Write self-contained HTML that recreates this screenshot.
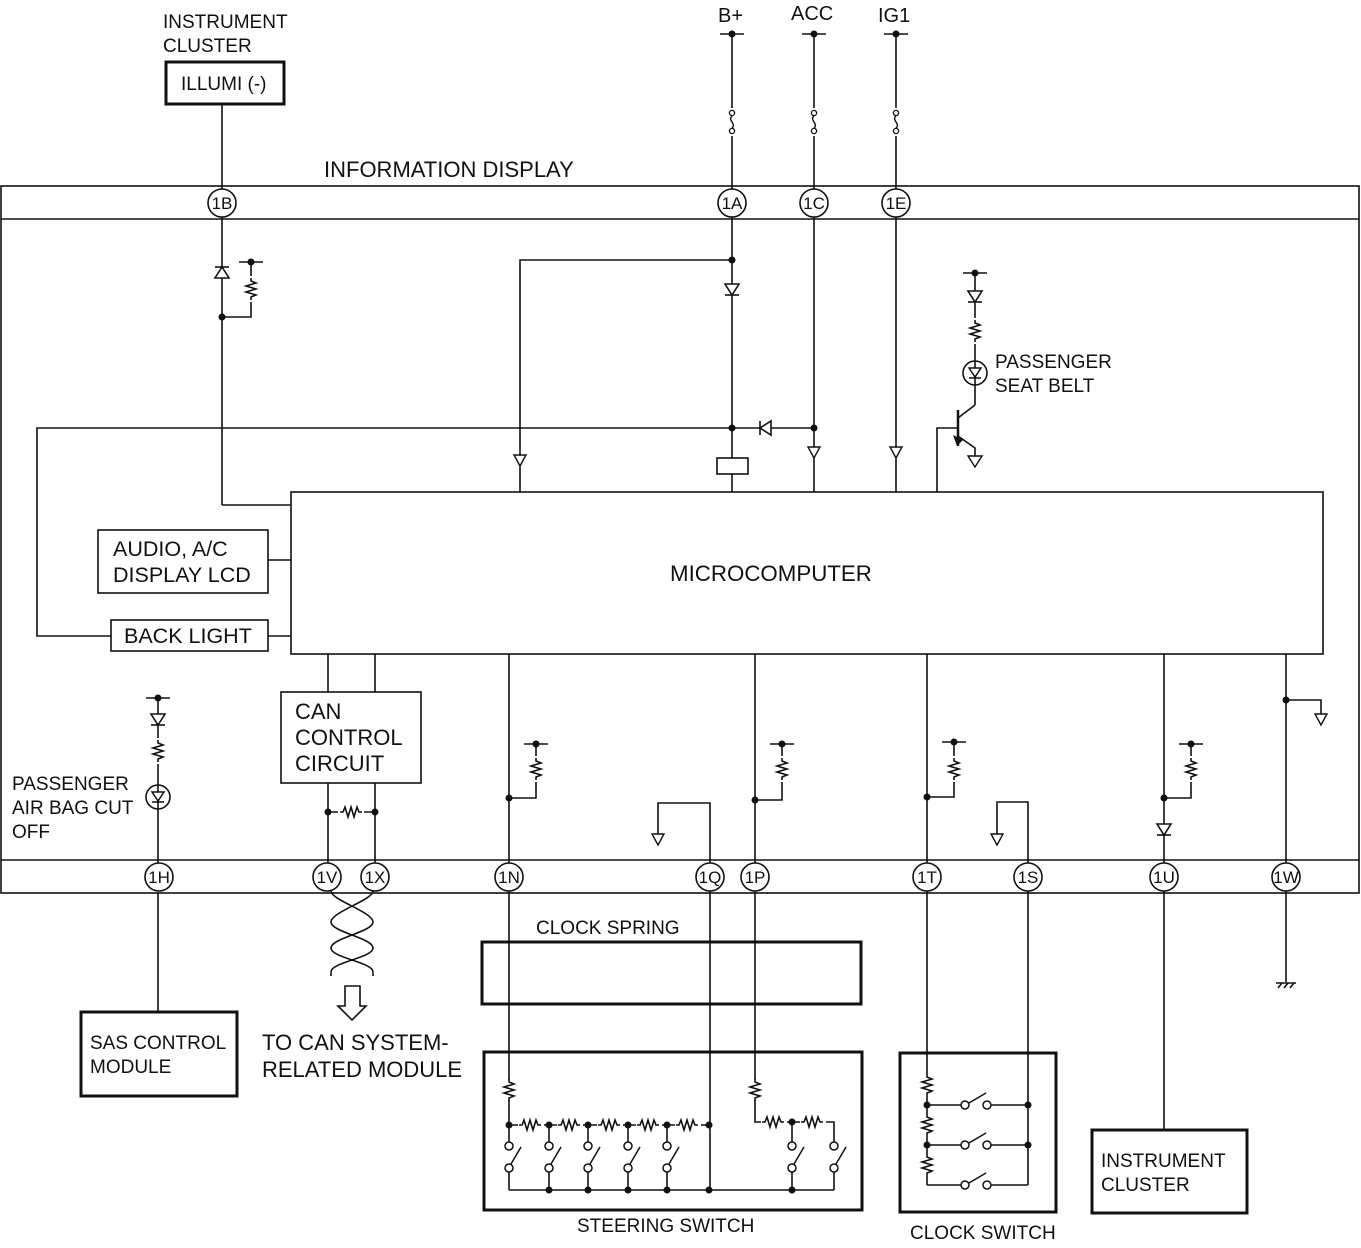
<!DOCTYPE html>
<html><head><meta charset="utf-8"><style>
html,body{margin:0;padding:0;background:#fff;}
svg{display:block;}
text{font-family:"Liberation Sans",Arial,sans-serif;fill:#111;}
</style></head><body>
<svg width="1361" height="1248" viewBox="0 0 1361 1248" xmlns="http://www.w3.org/2000/svg">
<defs>
<g id="rv"><polyline points="0,-11 0,-8 5,-6 -5,-3 5,0 -5,3 5,6 0,8 0,11" fill="none" stroke="#111" stroke-width="1.6"/></g>
<g id="rh"><polyline points="-11,0 -8,0 -6,-5 -3,5 0,-5 3,5 6,-5 8,0 11,0" fill="none" stroke="#111" stroke-width="1.6"/></g>
<g id="dd"><polygon points="-7,-6 7,-6 0,5" fill="#fff" stroke="#111" stroke-width="1.6"/><line x1="-7" y1="5" x2="7" y2="5" stroke="#111" stroke-width="1.6"/></g>
<g id="ar"><polygon points="-6,-5 6,-5 0,6" fill="#fff" stroke="#111" stroke-width="1.4"/></g>
<g id="sup"><line x1="-12" y1="0" x2="12" y2="0" stroke="#111" stroke-width="1.6"/><circle r="3.5" fill="#111"/></g>
<g id="led"><circle r="12" fill="#fff" stroke="#111" stroke-width="1.6"/><line x1="0" y1="-12" x2="0" y2="12" stroke="#111" stroke-width="1.6"/><polygon points="-6,-5 6,-5 0,4" fill="#fff" stroke="#111" stroke-width="1.5"/><line x1="-6" y1="5" x2="6" y2="5" stroke="#111" stroke-width="1.5"/></g>
<g id="fuse"><circle cx="0" cy="-9" r="2.6" fill="#fff" stroke="#111" stroke-width="1.3"/><circle cx="0" cy="9" r="2.6" fill="#fff" stroke="#111" stroke-width="1.3"/><path d="M0,-6 C-5,-2 5,2 0,6" fill="none" stroke="#111" stroke-width="1.4"/></g>
<g id="swv"><circle cx="0" cy="-11" r="4" fill="#fff" stroke="#111" stroke-width="1.5"/><circle cx="0" cy="11" r="4" fill="#fff" stroke="#111" stroke-width="1.5"/><line x1="2" y1="7" x2="12" y2="-10" stroke="#111" stroke-width="1.5"/></g>
<g id="swh"><circle cx="-11" cy="0" r="4" fill="#fff" stroke="#111" stroke-width="1.5"/><circle cx="11" cy="0" r="4" fill="#fff" stroke="#111" stroke-width="1.5"/><line x1="-7" y1="-2" x2="10" y2="-12" stroke="#111" stroke-width="1.5"/></g>
<g id="cn"><circle r="14" fill="#fff" stroke="#111" stroke-width="1.6"/></g>
</defs>

<g stroke="#111" stroke-width="1.6" fill="none">
<rect x="1" y="186" width="1358" height="707"/>
<line x1="1" y1="219" x2="1359" y2="219"/>
<line x1="1" y1="860" x2="1359" y2="860"/>
<rect x="291" y="492" width="1032" height="162"/>
<rect x="166" y="62" width="118" height="42" stroke-width="3"/>
<rect x="98" y="530" width="170" height="63"/>
<rect x="111" y="620" width="157" height="31"/>
<rect x="281" y="692" width="140" height="91"/>
<rect x="482" y="942" width="379" height="62" stroke-width="3"/>
<rect x="484" y="1052" width="378" height="158" stroke-width="3"/>
<rect x="900" y="1053" width="156" height="159" stroke-width="3"/>
<rect x="81" y="1012" width="156" height="84" stroke-width="3"/>
<rect x="1092" y="1130" width="155" height="83" stroke-width="3"/>

<line x1="732" y1="34" x2="732" y2="492"/>
<line x1="814" y1="34" x2="814" y2="492"/>
<line x1="896" y1="34" x2="896" y2="492"/>
<line x1="222" y1="104" x2="222" y2="505"/>
<line x1="222" y1="505" x2="291" y2="505"/>
<polyline points="222,317 251,317 251,262"/>
<polyline points="732,260 520,260 520,492"/>
<polyline points="814,428 37,428 37,636 111,636"/>
<line x1="268" y1="636" x2="291" y2="636"/>
<line x1="268" y1="560" x2="291" y2="560"/>
<line x1="975" y1="273" x2="975" y2="405"/>
<polyline points="937,492 937,428 958,428"/>
<line x1="958" y1="410" x2="958" y2="446" stroke-width="2.5"/>
<line x1="958" y1="418" x2="975" y2="405"/>
<polyline points="958,436 975,448 975,462"/>
<line x1="328" y1="654" x2="328" y2="692"/>
<line x1="375" y1="654" x2="375" y2="692"/>
<line x1="328" y1="783" x2="328" y2="863"/>
<line x1="375" y1="783" x2="375" y2="863"/>
<line x1="328" y1="812" x2="375" y2="812"/>
<line x1="158" y1="698" x2="158" y2="863"/>
<!-- 1N -->
<line x1="509" y1="654" x2="509" y2="1080"/>
<line x1="509" y1="1100" x2="509" y2="1146"/>
<line x1="509" y1="1168" x2="509" y2="1190"/>
<polyline points="509,798 536,798 536,744"/>
<!-- 1P -->
<line x1="755" y1="654" x2="755" y2="1080"/>
<polyline points="755,800 782,800 782,744"/>
<!-- 1T -->
<line x1="927" y1="654" x2="927" y2="1074"/>
<polyline points="927,797 954,797 954,742"/>
<line x1="927" y1="1096" x2="927" y2="1114"/>
<line x1="927" y1="1136" x2="927" y2="1154"/>
<line x1="927" y1="1176" x2="927" y2="1185"/>
<!-- 1U -->
<line x1="1164" y1="654" x2="1164" y2="1130"/>
<polyline points="1164,798 1191,798 1191,744"/>
<!-- 1W -->
<line x1="1286" y1="654" x2="1286" y2="982"/>
<polyline points="1286,700 1321,700 1321,714"/>
<polyline points="710,1190 710,803 658,803 658,834"/>
<polyline points="1028,1185 1028,802 997,802 997,834"/>
<line x1="158" y1="893" x2="158" y2="1012"/>
<path d="M331,891 C331,900 373,912 373,922 C373,932 331,938 331,948 C331,958 373,962 373,972 L373,976" />
<path d="M373,891 C373,900 331,912 331,922 C331,932 373,938 373,948 C373,958 331,962 331,972 L331,976" />
<polygon points="345,986 360,986 360,1006 366,1006 352,1020 338,1006 345,1006" fill="#fff"/>
<line x1="1276" y1="983" x2="1296" y2="983"/>
<line x1="1278" y1="988" x2="1282" y2="983"/><line x1="1284" y1="988" x2="1288" y2="983"/><line x1="1290" y1="988" x2="1294" y2="983"/>

<!-- steering switch internals -->
<line x1="509" y1="1125" x2="709" y2="1125"/>
<line x1="509" y1="1190" x2="834" y2="1190"/>
<polyline points="755,1100 755,1122 834,1122 834,1146"/>
<line x1="549" y1="1125" x2="549" y2="1146"/><line x1="549" y1="1168" x2="549" y2="1190"/>
<line x1="588" y1="1125" x2="588" y2="1146"/><line x1="588" y1="1168" x2="588" y2="1190"/>
<line x1="628" y1="1125" x2="628" y2="1146"/><line x1="628" y1="1168" x2="628" y2="1190"/>
<line x1="667" y1="1125" x2="667" y2="1146"/><line x1="667" y1="1168" x2="667" y2="1190"/>
<line x1="792" y1="1122" x2="792" y2="1146"/><line x1="792" y1="1168" x2="792" y2="1190"/>
<line x1="834" y1="1168" x2="834" y2="1190"/>
<!-- clock switch internals -->
<line x1="927" y1="1105" x2="965" y2="1105"/><line x1="987" y1="1105" x2="1028" y2="1105"/>
<line x1="927" y1="1145" x2="965" y2="1145"/><line x1="987" y1="1145" x2="1028" y2="1145"/>
<line x1="927" y1="1185" x2="965" y2="1185"/><line x1="987" y1="1185" x2="1028" y2="1185"/>
</g>

<g fill="#fff">
<rect x="244" y="276" width="14" height="26"/><rect x="968" y="318" width="14" height="26"/>
<rect x="151" y="738" width="14" height="26"/><rect x="338" y="805" width="26" height="14"/>
<rect x="529" y="756" width="14" height="26"/><rect x="775" y="756" width="14" height="26"/>
<rect x="947" y="756" width="14" height="26"/><rect x="1184" y="756" width="14" height="26"/>
<rect x="518" y="1118" width="26" height="14"/><rect x="557" y="1118" width="26" height="14"/><rect x="597" y="1118" width="26" height="14"/><rect x="636" y="1118" width="26" height="14"/><rect x="675" y="1118" width="26" height="14"/>
<rect x="761" y="1115" width="26" height="14"/><rect x="800" y="1115" width="26" height="14"/>
</g>
<use href="#rv" x="251" y="289"/><use href="#rv" x="975" y="331"/><use href="#rv" x="158" y="751"/>
<use href="#rh" x="351" y="812"/>
<use href="#rv" x="536" y="769"/><use href="#rv" x="782" y="769"/><use href="#rv" x="954" y="769"/><use href="#rv" x="1191" y="769"/>
<use href="#rv" x="509" y="1090"/><use href="#rv" x="755" y="1090"/>
<use href="#rv" x="927" y="1085"/><use href="#rv" x="927" y="1125"/><use href="#rv" x="927" y="1165"/>
<use href="#rh" x="530" y="1125"/><use href="#rh" x="569" y="1125"/><use href="#rh" x="609" y="1125"/><use href="#rh" x="648" y="1125"/><use href="#rh" x="687" y="1125"/>
<use href="#rh" x="773" y="1122"/><use href="#rh" x="812" y="1122"/>
<use href="#swv" x="509" y="1157"/><use href="#swv" x="549" y="1157"/><use href="#swv" x="588" y="1157"/><use href="#swv" x="628" y="1157"/><use href="#swv" x="667" y="1157"/><use href="#swv" x="792" y="1157"/><use href="#swv" x="834" y="1157"/>
<use href="#swh" x="976" y="1105"/><use href="#swh" x="976" y="1145"/><use href="#swh" x="976" y="1185"/>

<use href="#dd" transform="translate(222,272) rotate(180)"/>
<use href="#dd" x="732" y="290"/>
<use href="#dd" transform="translate(765,428) rotate(90)"/>
<use href="#dd" x="975" y="297"/>
<use href="#dd" x="158" y="720"/>
<use href="#dd" x="1164" y="830"/>
<use href="#led" x="975" y="373"/><use href="#led" x="158" y="797"/>
<use href="#ar" x="520" y="460"/><use href="#ar" x="814" y="452"/><use href="#ar" x="896" y="452"/>
<polygon points="968,456 982,456 975,467" fill="#fff" stroke="#111" stroke-width="1.4"/>
<polygon points="953,435 963,440 957,446" fill="#111"/>
<use href="#ar" x="1321" y="719"/><use href="#ar" x="658" y="839"/><use href="#ar" x="997" y="839"/>
<rect x="717" y="458" width="31" height="16" fill="#fff" stroke="#111" stroke-width="1.6"/>
<rect x="726" y="108" width="12" height="28" fill="#fff"/><rect x="808" y="108" width="12" height="28" fill="#fff"/><rect x="890" y="108" width="12" height="28" fill="#fff"/>
<use href="#fuse" x="732" y="122"/><use href="#fuse" x="814" y="122"/><use href="#fuse" x="896" y="122"/>
<use href="#sup" x="732" y="34"/><use href="#sup" x="814" y="34"/><use href="#sup" x="896" y="34"/>
<use href="#sup" x="251" y="262"/><use href="#sup" x="975" y="273"/><use href="#sup" x="158" y="698"/>
<use href="#sup" x="536" y="744"/><use href="#sup" x="782" y="744"/><use href="#sup" x="954" y="742"/><use href="#sup" x="1191" y="744"/>
<g fill="#111">
<circle cx="222" cy="317" r="3.5"/><circle cx="732" cy="260" r="3.5"/><circle cx="732" cy="428" r="3.5"/><circle cx="814" cy="428" r="3.5"/>
<circle cx="328" cy="812" r="3.5"/><circle cx="375" cy="812" r="3.5"/>
<circle cx="509" cy="798" r="3.5"/><circle cx="755" cy="800" r="3.5"/><circle cx="927" cy="797" r="3.5"/><circle cx="1164" cy="798" r="3.5"/><circle cx="1286" cy="700" r="3.5"/>
<circle cx="509" cy="1125" r="3.5"/><circle cx="549" cy="1125" r="3.5"/><circle cx="588" cy="1125" r="3.5"/><circle cx="628" cy="1125" r="3.5"/><circle cx="667" cy="1125" r="3.5"/><circle cx="709" cy="1125" r="3.5"/>
<circle cx="549" cy="1190" r="3.5"/><circle cx="588" cy="1190" r="3.5"/><circle cx="628" cy="1190" r="3.5"/><circle cx="667" cy="1190" r="3.5"/><circle cx="709" cy="1190" r="3.5"/><circle cx="792" cy="1190" r="3.5"/><circle cx="792" cy="1122" r="3.5"/>
<circle cx="927" cy="1105" r="3.5"/><circle cx="927" cy="1145" r="3.5"/><circle cx="1028" cy="1105" r="3.5"/><circle cx="1028" cy="1145" r="3.5"/>
</g>

<g font-size="17" text-anchor="middle">
<use href="#cn" x="222" y="203"/><text x="222" y="209">1B</text>
<use href="#cn" x="732" y="203"/><text x="732" y="209">1A</text>
<use href="#cn" x="814" y="203"/><text x="814" y="209">1C</text>
<use href="#cn" x="896" y="203"/><text x="896" y="209">1E</text>
<use href="#cn" x="159" y="877"/><text x="159" y="883">1H</text>
<use href="#cn" x="327" y="877"/><text x="327" y="883">1V</text>
<use href="#cn" x="375" y="877"/><text x="375" y="883">1X</text>
<use href="#cn" x="509" y="877"/><text x="509" y="883">1N</text>
<use href="#cn" x="710" y="877"/><text x="710" y="883">1Q</text>
<use href="#cn" x="755" y="877"/><text x="755" y="883">1P</text>
<use href="#cn" x="927" y="877"/><text x="927" y="883">1T</text>
<use href="#cn" x="1028" y="877"/><text x="1028" y="883">1S</text>
<use href="#cn" x="1164" y="877"/><text x="1164" y="883">1U</text>
<use href="#cn" x="1286" y="877"/><text x="1286" y="883">1W</text>
</g>

<g font-size="19">
<text x="163" y="28">INSTRUMENT</text><text x="163" y="52">CLUSTER</text>
<text x="181" y="90">ILLUMI (-)</text>
<text x="718" y="22" font-size="20">B+</text><text x="791" y="20" font-size="20">ACC</text><text x="878" y="22" font-size="20">IG1</text>
<text x="324" y="177" font-size="22">INFORMATION DISPLAY</text>
<text x="995" y="368">PASSENGER</text><text x="995" y="392">SEAT BELT</text>
<text x="113" y="556" font-size="21.5">AUDIO, A/C</text><text x="113" y="582" font-size="21.5">DISPLAY LCD</text>
<text x="124" y="643" font-size="21.5">BACK LIGHT</text>
<text x="670" y="581" font-size="22.3">MICROCOMPUTER</text>
<text x="295" y="719" font-size="22">CAN</text><text x="295" y="745" font-size="22">CONTROL</text><text x="295" y="771" font-size="22">CIRCUIT</text>
<text x="12" y="790">PASSENGER</text><text x="12" y="814">AIR BAG CUT</text><text x="12" y="838">OFF</text>
<text x="536" y="934">CLOCK SPRING</text>
<text x="90" y="1049">SAS CONTROL</text><text x="90" y="1073">MODULE</text>
<text x="262" y="1050" font-size="22">TO CAN SYSTEM-</text><text x="262" y="1077" font-size="22">RELATED MODULE</text>
<text x="577" y="1232">STEERING SWITCH</text>
<text x="910" y="1239">CLOCK SWITCH</text>
<text x="1101" y="1167">INSTRUMENT</text><text x="1101" y="1191">CLUSTER</text>
</g>
</svg>
</body></html>
